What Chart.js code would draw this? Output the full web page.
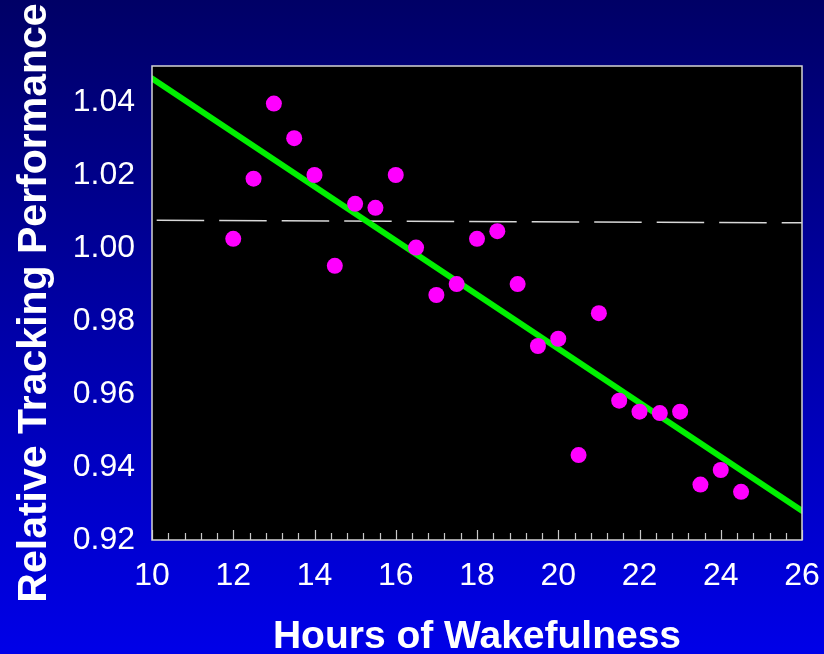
<!DOCTYPE html>
<html>
<head>
    <title>Relative Tracking Performance vs Hours of Wakefulness</title>
    <script src="https://cdn.jsdelivr.net/npm/chart.js"></script>
    <style>
        html, body {
            margin: 0;
            padding: 0;
            background: #000080;
        }
        .wrap {
            width: 824px;
            height: 654px;
        }
    </style>
</head>
<body>
    <div class="wrap">
        <canvas id="wakeChart" width="824" height="654"></canvas>
    </div>

    <script>
        // measured points
        const hours = [12, 12.5, 13, 13.5, 14, 14.5, 15, 15.5, 16, 16.5, 17, 17.5, 18, 18.5,
                       19, 19.5, 20, 20.5, 21, 21.5, 22, 22.5, 23, 23.5, 24, 24.5];
        const performance = [1.0026, 1.0191, 1.0397, 1.0302, 1.0201, 0.9952, 1.0122, 1.0111,
                             1.0201, 1.0002, 0.9872, 0.9902, 1.0026, 1.0047, 0.9902, 0.9732,
                             0.9752, 0.9433, 0.9822, 0.9582, 0.9552, 0.9548, 0.9552, 0.9352,
                             0.9392, 0.9332];

        // regression line and the dashed reference line (end points)
        const fitX = [10, 26];
        const fitY = [1.0466, 0.9280];
        const refX = [10, 26];
        const refY = [1.0077, 1.0070];

        const xTicks = [10, 12, 14, 16, 18, 20, 22, 24, 26];
        const yTicks = [0.92, 0.94, 0.96, 0.98, 1.00, 1.02, 1.04];
        const minorStep = 0.4;

        const toPoints = (xs, ys) => xs.map((x, i) => ({ x: x, y: ys[i] }));

        const backdrop = {
            id: 'backdrop',
            beforeDraw(chart) {
                const ctx = chart.ctx;
                const g = ctx.createLinearGradient(0, 0, 0, chart.height);
                g.addColorStop(0, '#000066');
                g.addColorStop(1, '#0000e8');
                ctx.save();
                ctx.fillStyle = g;
                ctx.fillRect(0, 0, chart.width, chart.height);
                const a = chart.chartArea;
                ctx.fillStyle = '#000000';
                ctx.fillRect(a.left, a.top, a.right - a.left, a.bottom - a.top);
                ctx.restore();
            },
            afterDraw(chart) {
                const ctx = chart.ctx;
                const a = chart.chartArea;
                const xs = chart.scales.x;
                ctx.save();
                // inward tick marks along the bottom
                ctx.strokeStyle = '#c8c8c8';
                ctx.lineWidth = 1.2;
                ctx.beginPath();
                for (let v = xs.min; v <= xs.max + 1e-6; v += minorStep) {
                    const val = Math.round(v * 10) / 10;
                    const px = Math.round(xs.getPixelForValue(val)) + 0.5;
                    const major = xTicks.includes(val);
                    ctx.moveTo(px, a.bottom);
                    ctx.lineTo(px, a.bottom - (major ? 10 : 7));
                }
                ctx.stroke();
                // frame
                ctx.strokeStyle = '#d4d4d4';
                ctx.lineWidth = 1.5;
                ctx.strokeRect(a.left, a.top, a.right - a.left, a.bottom - a.top);
                ctx.restore();
            }
        };

        const wakeChart = new Chart(document.getElementById('wakeChart').getContext('2d'), {
            type: 'scatter',
            data: {
                datasets: [
                    {
                        label: 'Tracking performance',
                        data: toPoints(hours, performance),
                        backgroundColor: '#ff00ff',
                        borderWidth: 0,
                        pointRadius: 8,
                        pointHoverRadius: 8
                    },
                    {
                        type: 'line',
                        label: 'Fit',
                        data: toPoints(fitX, fitY),
                        borderColor: '#00f000',
                        borderWidth: 6,
                        borderCapStyle: 'round',
                        pointRadius: 0,
                        fill: false
                    },
                    {
                        type: 'line',
                        label: 'Reference',
                        data: toPoints(refX, refY),
                        borderColor: '#d8d8d8',
                        borderWidth: 1.5,
                        borderDash: [47.5, 15],
                        borderDashOffset: 57.8,
                        pointRadius: 0,
                        fill: false
                    }
                ]
            },
            options: {
                responsive: true,
                maintainAspectRatio: false,
                animation: false,
                devicePixelRatio: 1,
                layout: { padding: { top: 66, right: 22, left: 0, bottom: 0 } },
                plugins: {
                    legend: { display: false },
                    tooltip: { enabled: false }
                },
                scales: {
                    x: {
                        type: 'linear',
                        min: 10,
                        max: 26,
                        afterBuildTicks: s => { s.ticks = xTicks.map(v => ({ value: v })); },
                        afterFit: s => { s.height = 114; s.paddingLeft = 0; s.paddingRight = 0; },
                        grid: { display: false, drawTicks: false },
                        border: { display: false },
                        ticks: {
                            color: '#ffffff',
                            padding: 17,
                            maxRotation: 0,
                            autoSkip: false,
                            font: { family: 'Liberation Sans, Arial, sans-serif', size: 32 }
                        },
                        title: {
                            display: true,
                            text: 'Hours of Wakefulness',
                            color: '#ffffff',
                            padding: { top: 0, bottom: 0 },
                            font: { family: 'Liberation Sans, Arial, sans-serif', size: 39, weight: 'bold', lineHeight: 0.88 }
                        }
                    },
                    y: {
                        min: 0.92,
                        max: 1.05,
                        afterBuildTicks: s => { s.ticks = yTicks.map(v => ({ value: v })); },
                        afterFit: s => { s.width = 152; s.paddingTop = 0; s.paddingBottom = 0; },
                        grid: { display: false, drawTicks: false },
                        border: { display: false },
                        ticks: {
                            color: '#ffffff',
                            padding: 17,
                            autoSkip: false,
                            callback: v => v.toFixed(2),
                            font: { family: 'Liberation Sans, Arial, sans-serif', size: 32 }
                        },
                        title: {
                            display: true,
                            text: 'Relative Tracking Performance',
                            color: '#ffffff',
                            padding: { top: 14, bottom: 0 },
                            font: { family: 'Liberation Sans, Arial, sans-serif', size: 41, weight: 'bold', lineHeight: 1 }
                        }
                    }
                }
            },
            plugins: [backdrop]
        });
    </script>
</body>
</html>
